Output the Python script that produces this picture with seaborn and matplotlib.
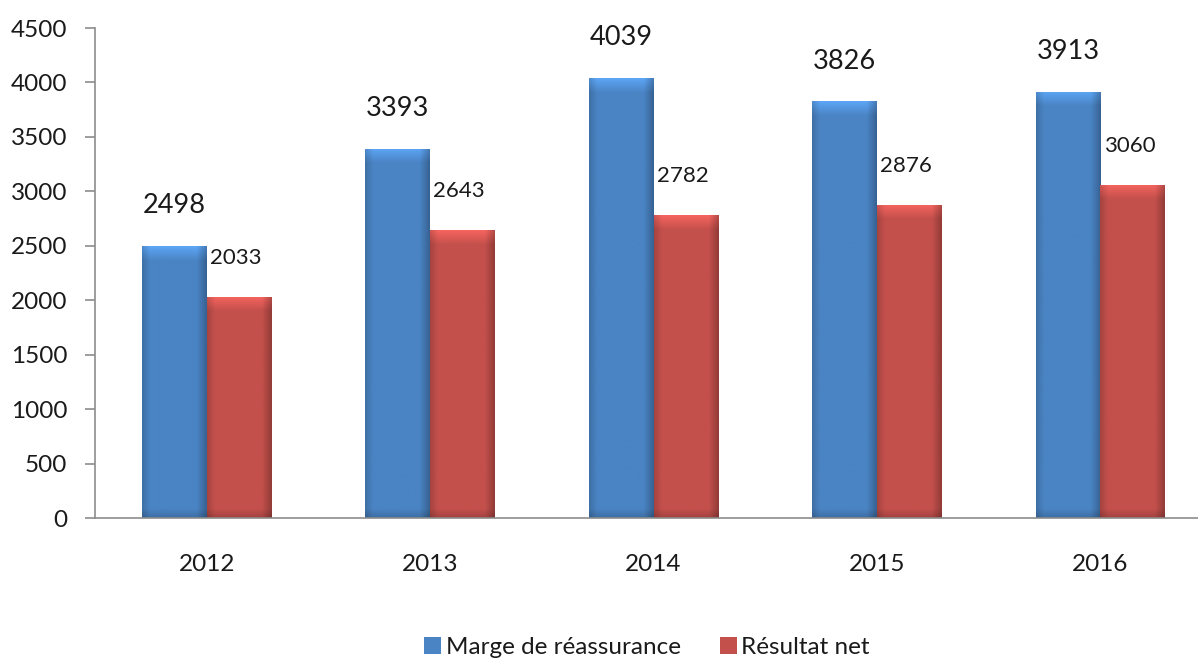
import numpy as np
import pandas as pd
import matplotlib
matplotlib.use("Agg")
import matplotlib.pyplot as plt
import matplotlib.colors as mcolors
from matplotlib.patches import Patch
import seaborn as sns

years = ["2012", "2013", "2014", "2015", "2016"]
marge = [2498, 3393, 4039, 3826, 3913]
resultat = [2033, 2643, 2782, 2876, 3060]
series = ["Marge de réassurance", "Résultat net"]
colors = ["#4A84C4", "#C4504C"]

df = pd.DataFrame({
    "Année": years * 2,
    "Valeur": marge + resultat,
    "Série": [series[0]] * len(years) + [series[1]] * len(years),
})

sns.set_theme(style="white")
plt.rcParams["font.family"] = ["Lato", "DejaVu Sans"]

fig = plt.figure(figsize=(11.98, 6.66), dpi=100)
ax = fig.add_axes([0.0793, 0.2222, 1.0117 - 0.0793, 0.7357])

sns.barplot(data=df, x="Année", y="Valeur", hue="Série", palette=colors,
            width=0.58, ax=ax, legend=False, saturation=1)

# bevelled look: gradient image clipped to every bar
bars = [p for p in ax.patches if p.get_height() > 0]
for i, p in enumerate(bars):
    base = np.array(mcolors.to_rgb(colors[0] if i < len(years) else colors[1]))
    x0, w, h = p.get_x(), p.get_width(), p.get_height()
    nx, ny = 64, max(int(h / 4500 * 490), 2)
    u = np.linspace(0, 1, nx)
    hor = 1.0 - 0.15 * np.clip((0.12 - u) / 0.12, 0, 1) - 0.25 * np.clip((u - 0.85) / 0.15, 0, 1)
    v = np.arange(ny)
    ver = 1.0 + 0.25 * np.clip((14 - v) / 14, 0, 1) - 0.18 * np.clip((v - (ny - 10)) / 10, 0, 1)
    f = ver[:, None] * hor[None, :]
    img = np.clip(base[None, None, :] * f[:, :, None], 0, 1)
    im = ax.imshow(img, extent=[x0, x0 + w, 0, h], origin="upper", aspect="auto",
                   zorder=p.get_zorder() + 0.1, interpolation="bilinear")
    im.set_clip_path(p)

ax.set_xlim(-0.5, 4.5)
ax.set_ylim(0, 4500)
ax.set_yticks(np.arange(0, 4501, 500))
ax.set_xlabel("")
ax.set_ylabel("")

# value labels
for i in range(len(years)):
    ax.text(i - 0.145, marge[i] + 255, str(marge[i]), ha="center", va="bottom",
            fontsize=19.5, color="#1a1a1a")
    ax.text(i + 0.13, resultat[i] + 265, str(resultat[i]), ha="center", va="bottom",
            fontsize=16, color="#1a1a1a")

for s in ["top", "right"]:
    ax.spines[s].set_visible(False)
for s in ["left", "bottom"]:
    ax.spines[s].set_color("#8c8c8c")
    ax.spines[s].set_linewidth(1.2)

ax.set_xticks(np.arange(-0.5, 4.6, 1), minor=True)
ax.tick_params(axis="x", which="major", length=0, pad=26, labelsize=17.5, labelcolor="#1a1a1a")
ax.tick_params(axis="x", which="minor", length=7, width=1.2, color="#8c8c8c", direction="out")
ax.tick_params(axis="y", length=7, width=1.2, color="#8c8c8c", direction="out", left=True,
               pad=13, labelsize=17.5, labelcolor="#1a1a1a")

handles = [Patch(facecolor=c, edgecolor="none") for c in colors]
fig.legend(handles, series, loc="center", bbox_to_anchor=(0.54, 0.028), ncol=2, frameon=False,
           fontsize=17.5, handlelength=0.7, handleheight=0.7, handletextpad=0.2,
           columnspacing=1.6, labelcolor="#1a1a1a")

fig.savefig("out.png", dpi=100)
